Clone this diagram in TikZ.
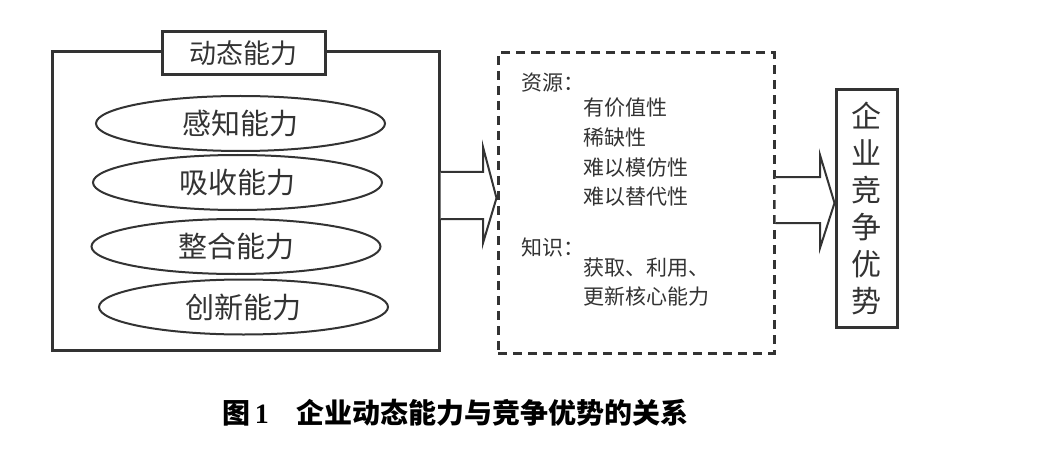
\documentclass[tikz,border=0pt]{standalone}
\usepackage{fontspec}
\newfontfamily\cjk{Noto Sans CJK SC}
\newfontfamily\numfont{Liberation Serif}
\usetikzlibrary{shapes.geometric}
\definecolor{ink}{HTML}{333333}
\tikzset{
  frame/.style={draw=ink, line width=3pt},
  oval/.style={draw=ink, line width=2pt, ellipse, minimum width=289pt, minimum height=55pt, inner sep=0pt,
    font=\cjk\fontsize{29}{30}\selectfont, text=ink},
  txt/.style={font=\cjk\fontsize{21}{22}\selectfont, text=ink, anchor=west, inner sep=0pt},
  blockarrow/.style={draw=ink, line width=2pt, fill=white, line join=miter},
}
\begin{document}
\begin{tikzpicture}[x=1pt,y=-1pt]
\useasboundingbox (0,0) rectangle (1048,457);
% left frame
\node[frame, minimum width=387pt, minimum height=298pt, inner sep=0pt] (dyn) at (245.5,201) {};
\node[frame, fill=white, minimum width=163pt, minimum height=43pt, inner sep=0pt,
  font=\cjk\fontsize{27}{28}\selectfont, text=ink] (dyntitle) at (243.5,53.5) {动态能力};
\node[oval] (e1) at (240.5,123.5) {感知能力};
\node[oval] (e2) at (237.5,182.5) {吸收能力};
\node[oval] (e3) at (236,246.5) {整合能力};
\node[oval] (e4) at (243.5,307) {创新能力};
% dashed box
\node[draw=ink, line width=3pt, dash pattern=on 9pt off 6pt, minimum width=276pt, minimum height=300pt, inner sep=0pt] (mid) at (636,203) {};
\node[txt] (t1) at (521,83) {资源：};
\node[txt] (t2) at (583,108) {有价值性};
\node[txt] (t3) at (583,137.5) {稀缺性};
\node[txt] (t4) at (583,167.5) {难以模仿性};
\node[txt] (t5) at (583,197) {难以替代性};
\node[txt] (t6) at (521,247) {知识：};
\node[txt] (t7) at (583,268) {获取、利用、};
\node[txt] (t8) at (583,297) {更新核心能力};
% right box
\node[frame, minimum width=61pt, minimum height=237pt, inner sep=0pt] (adv) at (866.5,208.5) {};
\node[font=\cjk\fontsize{30}{37}\selectfont, text=ink, align=center, inner sep=0pt] (advtxt) at (adv.center) {企\\业\\竞\\争\\优\\势};
% block arrows
\draw[blockarrow] (dyn.east |- 0,172) -- (483,172) -- (483,147) -- (mid.west |- 0,198) -- (483,243) -- (483,219) -- (dyn.east |- 0,219);
\draw[blockarrow] (mid.east |- 0,177) -- (820,177) -- (820,155) -- (adv.west |- 0,203) -- (820,248) -- (820,223) -- (mid.east |- 0,223);
% caption
\node[font=\cjk\bfseries\fontsize{28}{29}\selectfont, text=black, anchor=west, inner sep=0pt] (cap) at (222,413)
  {图\,{\numfont\bfseries 1}\hspace{28pt}企业动态能力与竞争优势的关系};
\end{tikzpicture}
\end{document}
